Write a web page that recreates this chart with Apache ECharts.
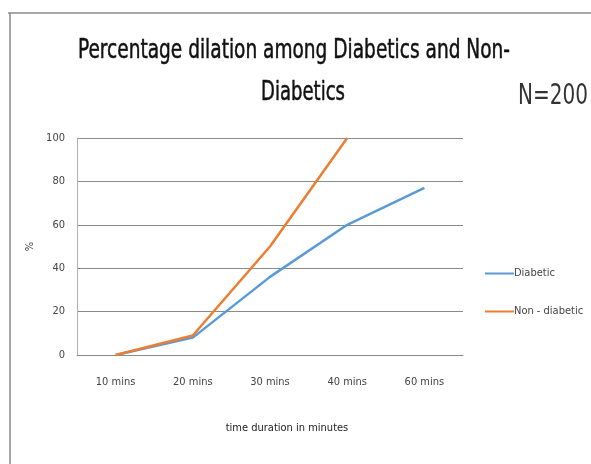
<!DOCTYPE html>
<html><head><meta charset="utf-8">
<script src="https://cdn.jsdelivr.net/npm/echarts@6/dist/echarts.min.js"></script>
<style>html,body{margin:0;padding:0;background:#fff}#c{width:591px;height:464px}</style>
</head><body><div id="c"></div>
<script>
const categories = ['10 mins','20 mins','30 mins','40 mins','60 mins'];
const diabetic = [0, 8, 36, 60, 77];
const nonDiabetic = [0, 9, 50, 100, null];
const yTicks = [0, 20, 40, 60, 80, 100];
const titleLines = ['Percentage dilation among Diabetics and Non-', 'Diabetics'];
const sampleNote = 'N=200';

const F = '"DejaVu Sans Condensed", "Liberation Sans Narrow", "Open Sans", sans-serif';
const cvs = document.createElement('canvas').getContext('2d');
function fitScale(text, font, target) { cvs.font = font; return target / cvs.measureText(text).width; }

const f1 = '27px ' + F;
const f3 = '29px ' + F;
function scaledText(text, font, x, yMid, width, fill, sw) {
  return {type:'text', x: x, y: yMid, scaleX: fitScale(text, font, width), scaleY: 1,
    style:{text: text, font: font, fill: fill, align:'left', verticalAlign:'middle',
      stroke: sw ? fill : null, lineWidth: sw}};
}

const chart = echarts.init(document.getElementById('c'));
chart.setOption({
  animation: false,
  backgroundColor: '#fff',
  graphic: [
    {type:'line', shape:{x1:8,y1:13,x2:591,y2:13}, style:{stroke:'#8a8a8a', lineWidth:1.5}},
    {type:'line', shape:{x1:10,y1:13,x2:10,y2:464}, style:{stroke:'#8a8a8a', lineWidth:1.5}},
    scaledText(titleLines[0], f1, 78, 51, 432, '#111', 0.5),
    scaledText(titleLines[1], f1, 261, 93, 84, '#111', 0.5),
    scaledText(sampleNote, f3, 518, 96, 70, '#333', 0)
  ],
  legend: {
    orient: 'vertical', left: 480, top: 263, itemGap: 27,
    itemWidth: 29, itemHeight: 2, icon: 'rect',
    textStyle: {fontFamily: F, fontSize: 11, color: '#444', padding:[0,0,0,-5]},
    data: ['Diabetic','Non - diabetic']
  },
  grid: {left: 77, right: 128, top: 138, bottom: 109, containLabel: false},
  xAxis: {
    type: 'category', data: categories, boundaryGap: true,
    axisLine: {lineStyle: {color: '#8a8a8a'}}, axisTick: {show: false},
    axisLabel: {fontFamily: F, fontSize: 11, color: '#444', margin: 22},
    name: 'time duration in minutes', nameLocation: 'middle', nameGap: 68,
    nameTextStyle: {fontFamily: F, fontSize: 11, color: '#222', padding: [0,0,0,34]}
  },
  yAxis: {
    type: 'value', min: 0, max: 100, interval: 20,
    axisLine: {show: true, lineStyle: {color: '#b0b0b0'}}, axisTick: {show: false},
    splitLine: {lineStyle: {color: '#8a8a8a'}},
    axisLabel: {fontFamily: F, fontSize: 11, color: '#444', margin: 12,
      formatter: v => yTicks.includes(v) ? String(v) : ''},
    name: '%', nameLocation: 'middle', nameGap: 38, nameRotate: 90,
    nameTextStyle: {fontFamily: F, fontSize: 11, color: '#444'}
  },
  series: [
    {name: 'Diabetic', type: 'line', data: diabetic, showSymbol: false,
     lineStyle: {color: '#5B9BD5', width: 2.5}, itemStyle: {color: '#5B9BD5'}},
    {name: 'Non - diabetic', type: 'line', data: nonDiabetic, showSymbol: false,
     lineStyle: {color: '#ED7D31', width: 2.5}, itemStyle: {color: '#ED7D31'}}
  ]
});
</script></body></html>
